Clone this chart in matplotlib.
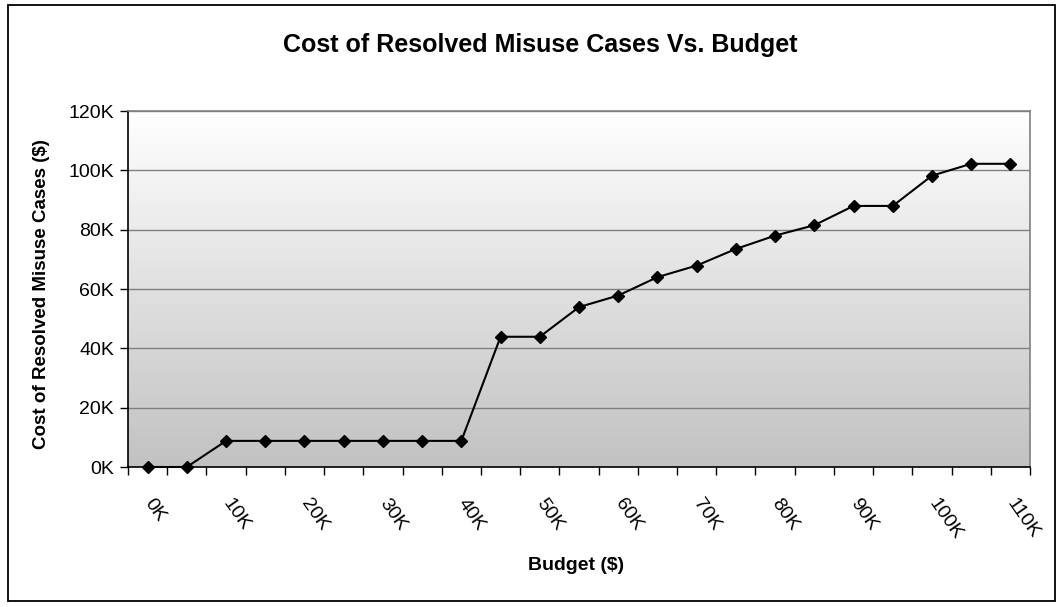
import matplotlib
matplotlib.use("Agg")
import matplotlib.pyplot as plt
import numpy as np
from matplotlib.patches import Rectangle

# Data (values in $K)
budget_k = [0, 5, 10, 15, 20, 25, 30, 35, 40, 45, 50, 55, 60, 65, 70, 75,
            80, 85, 90, 95, 100, 105, 110]
resolved_cost_k = [0, 0, 8.8, 8.8, 8.8, 8.8, 8.8, 8.8, 8.8, 43.9, 43.9, 53.9,
                   57.8, 64.0, 67.9, 73.5, 78.0, 81.5, 88.0, 88.0, 98.2, 102.2, 102.2]
y_ticks_k = [0, 20, 40, 60, 80, 100, 120]

plt.rcParams['font.family'] = ['Liberation Sans', 'DejaVu Sans']

W, H = 1063, 607
fig = plt.figure(figsize=(W / 100, H / 100), dpi=100)
fig.patch.set_facecolor('white')

ax = fig.add_axes([128 / W, 1 - 467 / H, (1030 - 128) / W, (467 - 111) / H])

n = len(budget_k)
x = np.arange(n)
ax.set_xlim(-0.5, n - 0.5)
ax.set_ylim(0, 120)

# gradient background
cols = np.ones((256, 1, 3))
top = np.array([1.0, 1.0, 1.0])
bot = np.array([0.76, 0.76, 0.76])
for i in range(256):
    t = i / 255
    cols[i, 0, :] = top * (1 - t) + bot * t
ax.imshow(cols, extent=(-0.5, n - 0.5, 0, 120), aspect='auto', zorder=0,
          interpolation='bilinear')

# gridlines
for yv in y_ticks_k[1:]:
    ax.axhline(yv, color='#808080', lw=1.0, zorder=1)

ax.plot(x, resolved_cost_k, color='black', lw=1.5, marker='D', markersize=6.5,
        zorder=3, clip_on=False)

# spines
ax.spines['left'].set_color('black')
ax.spines['bottom'].set_color('black')
ax.spines['top'].set_color('#808080')
ax.spines['right'].set_color('#808080')
for s in ax.spines.values():
    s.set_linewidth(1.2)

ax.set_yticks(y_ticks_k)
ax.set_yticklabels([f"{v}K" for v in y_ticks_k], fontsize=14)
ax.tick_params(axis='y', direction='out', length=6, width=1, pad=4)

# x: ticks at category boundaries, labels at every other category centre
ax.set_xticks(np.arange(-0.5, n, 1.0))
ax.set_xticklabels([])
ax.tick_params(axis='x', which='major', direction='out', length=6, width=1)
ax.set_xticks(x[::2], minor=True)
ax.set_xticklabels([f"{b}K" for b in budget_k[::2]], minor=True, fontsize=14,
                   rotation=-55, ha='left', va='center', rotation_mode='anchor')
ax.tick_params(axis='x', which='minor', length=0, pad=24)

fig.text(540 / W, 1 - 45 / H, "Cost of Resolved Misuse Cases Vs. Budget",
         fontsize=18, fontweight='bold', ha='center', va='center')
fig.text(576 / W, 1 - 566 / H, "Budget ($)", fontsize=14, fontweight='bold',
         ha='center', va='center')
fig.text(42 / W, 1 - 294 / H, "Cost of Resolved Misuse Cases ($)", fontsize=13.5,
         fontweight='bold', ha='center', va='center', rotation=90)

# outer border
fig.patches.append(Rectangle((8 / W, 1 - 601 / H), (1055 - 8) / W, (601 - 5) / H,
                             transform=fig.transFigure, fill=False,
                             edgecolor='black', lw=1.3))

fig.savefig("out.png", dpi=100)
